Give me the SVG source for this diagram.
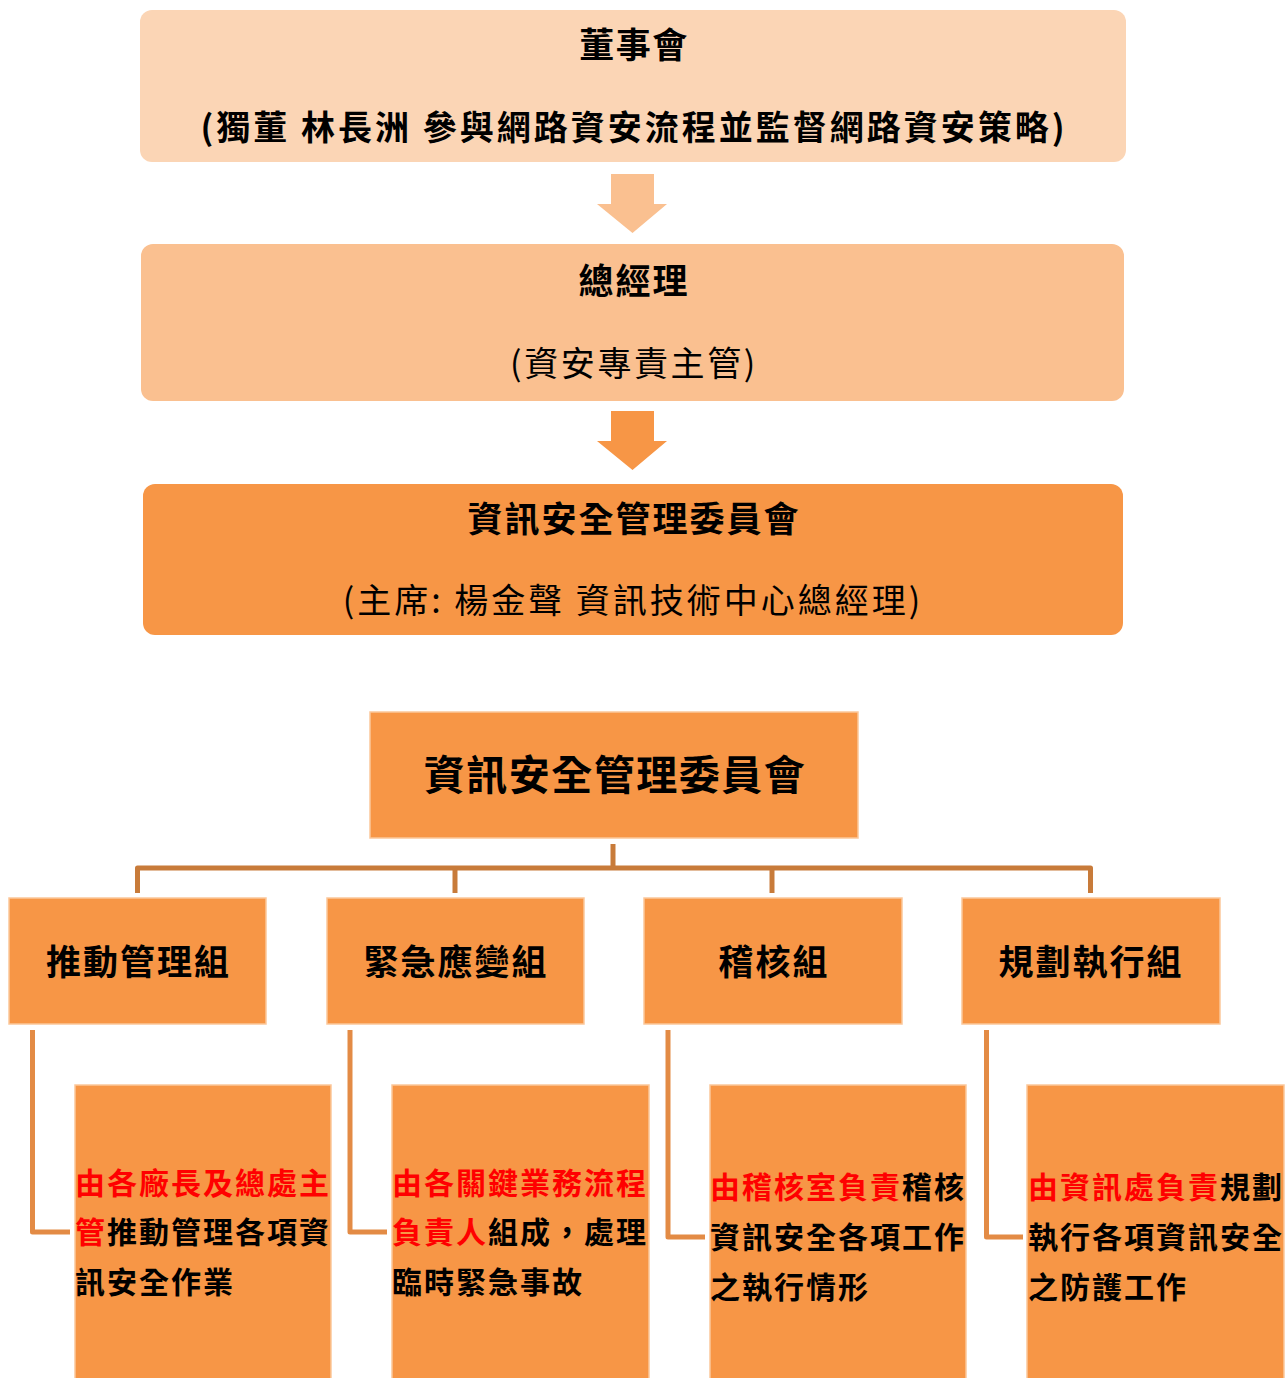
<svg xmlns="http://www.w3.org/2000/svg" width="1287" height="1378" viewBox="0 0 1287 1378">
<style>
text{font-family:"Noto Sans CJK TC","Noto Sans",sans-serif;fill:#000}
.b{font-weight:bold}
.c{text-anchor:middle}
.r{fill:#FF0000}
.box{fill:#F79646;stroke:#FBC79A;stroke-width:1.5}
.grp{font-size:35px;font-weight:bold;letter-spacing:2px;text-anchor:middle}
.det{font-size:30px;font-weight:bold;letter-spacing:2px}
.c1{fill:none;stroke:#C87B3A;stroke-width:5;stroke-linejoin:round}
.c2{fill:none;stroke:#E38B45;stroke-width:5;stroke-linejoin:round}
</style>
<rect width="1287" height="1378" fill="#FFFFFF"/>
<g id="board">
<rect x="140" y="10" width="986" height="152" rx="12" fill="#FBD5B5"/>
<text class="b c" x="634" y="58" font-size="35" letter-spacing="1.5">董事會</text>
<text class="b c" x="634" y="140" font-size="34" letter-spacing="3">(獨董 林長洲 參與網路資安流程並監督網路資安策略)</text>
</g>
<g id="gm">
<rect x="141" y="244" width="983" height="157" rx="12" fill="#FAC090"/>
<text class="b c" x="634" y="294" font-size="35" letter-spacing="2">總經理</text>
<text class="c" x="634" y="376" font-size="34" letter-spacing="2.6">(資安專責主管)</text>
</g>
<g id="committee">
<rect x="143" y="484" width="980" height="151" rx="12" fill="#F79646"/>
<text class="b c" x="634" y="532" font-size="35" letter-spacing="2">資訊安全管理委員會</text>
<text class="c" x="633" y="613" font-size="34" letter-spacing="3">(主席: 楊金聲 資訊技術中心總經理)</text>
</g>
<g id="arrows">
<polygon points="611,174 654,174 654,204 667,204 632.5,233 597,204 611,204" fill="#FAC090"/>
<polygon points="611,411 654,411 654,441 667,441 632.5,470 597,441 611,441" fill="#F79646"/>
</g>
<g id="committee2">
<rect class="box" x="370" y="712" width="488" height="126"/>
<text class="b c" x="615" y="790" font-size="41" letter-spacing="1.5">資訊安全管理委員會</text>
</g>
<g id="connectors">
<path class="c1" d="M613 844 V868"/>
<path class="c1" d="M137.5 893 V868 H1090.5 V893"/>
<path class="c1" d="M455 868 V893"/>
<path class="c1" d="M772 868 V893"/>
<path class="c2" d="M32.5 1030 V1232 H70"/>
<path class="c2" d="M350 1030 V1232 H387"/>
<path class="c2" d="M668 1030 V1237 H705"/>
<path class="c2" d="M986.5 1030 V1237 H1023"/>
</g>
<g id="g1">
<rect class="box" x="9" y="898" width="257" height="126"/>
<text class="grp" x="138.5" y="975">推動管理組</text>
</g>
<g id="g2">
<rect class="box" x="327" y="898" width="257" height="126"/>
<text class="grp" x="456" y="975">緊急應變組</text>
</g>
<g id="g3">
<rect class="box" x="644" y="898" width="258" height="126"/>
<text class="grp" x="774" y="975">稽核組</text>
</g>
<g id="g4">
<rect class="box" x="962" y="898" width="258" height="126"/>
<text class="grp" x="1091" y="975">規劃執行組</text>
</g>
<g id="d1">
<rect class="box" x="75" y="1085" width="256" height="300"/>
<text class="det" x="75" y="1194"><tspan class="r">由各廠長及總處主</tspan></text>
<text class="det" x="75" y="1243"><tspan class="r">管</tspan>推動管理各項資</text>
<text class="det" x="75" y="1293">訊安全作業</text>
</g>
<g id="d2">
<rect class="box" x="392" y="1085" width="257" height="300"/>
<text class="det" x="392" y="1194"><tspan class="r">由各關鍵業務流程</tspan></text>
<text class="det" x="392" y="1243"><tspan class="r">負責人</tspan>組成，處理</text>
<text class="det" x="392" y="1293">臨時緊急事故</text>
</g>
<g id="d3">
<rect class="box" x="710" y="1085" width="256" height="300"/>
<text class="det" x="710" y="1198"><tspan class="r">由稽核室負責</tspan>稽核</text>
<text class="det" x="710" y="1248">資訊安全各項工作</text>
<text class="det" x="710" y="1298">之執行情形</text>
</g>
<g id="d4">
<rect class="box" x="1027" y="1085" width="257" height="300"/>
<text class="det" x="1028" y="1198"><tspan class="r">由資訊處負責</tspan>規劃</text>
<text class="det" x="1028" y="1248">執行各項資訊安全</text>
<text class="det" x="1028" y="1298">之防護工作</text>
</g>
</svg>
